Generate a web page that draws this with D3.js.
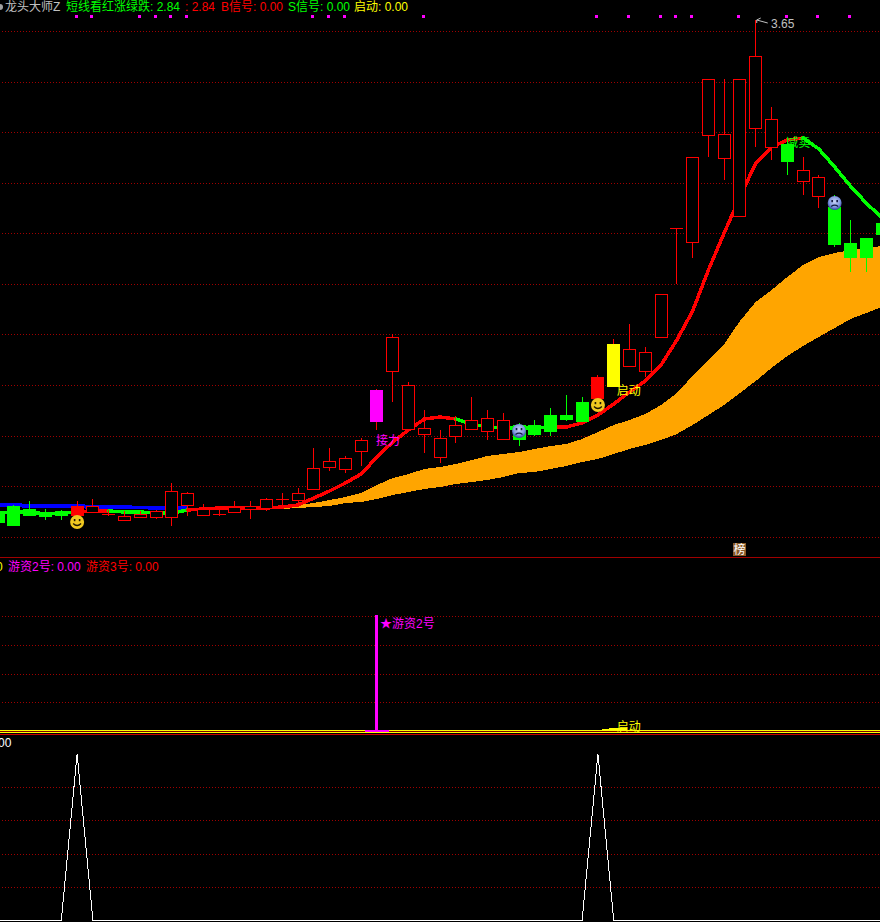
<!DOCTYPE html>
<html><head><meta charset="utf-8">
<script src="https://cdn.jsdelivr.net/npm/d3@7/dist/d3.min.js"></script>
<style>
html,body{margin:0;padding:0;background:#000;overflow:hidden}
svg{display:block}
text{font-family:"Liberation Sans","Noto Sans CJK SC",sans-serif;font-size:12px}
</style></head><body>
<svg id="c" width="880" height="922"></svg>
<script>
const opens=[1.682,1.706,1.694,1.678,1.686,1.670,1.682,1.674,1.650,1.662,1.662,1.662,1.710,1.670,1.674,1.682,1.694,1.698,1.734,1.730,1.774,1.862,1.854,1.926,2.046,2.246,2.014,1.994,1.902,1.986,2.014,2.006,1.974,2.030,2.030,2.070,2.070,2.122,2.138,2.186,2.266,2.246,2.382,2.818,2.762,3.190,3.098,2.866,3.218,3.142,3.154,3.006,2.946,2.902,2.758,2.778,2.838];
const closes=[1.642,1.630,1.670,1.666,1.670,1.706,1.706,1.674,1.666,1.674,1.686,1.766,1.758,1.694,1.674,1.702,1.706,1.734,1.734,1.758,1.858,1.886,1.898,1.970,2.170,2.382,2.190,2.018,1.978,2.030,2.050,2.058,2.050,1.974,1.994,2.006,2.054,2.046,2.222,2.354,2.334,2.322,2.554,2.818,3.102,3.414,3.194,3.414,3.506,3.254,3.086,3.050,3.022,2.754,2.702,2.702,2.794];
const highs=[1.690,1.710,1.726,1.694,1.690,1.726,1.734,1.690,1.686,1.686,1.690,1.798,1.762,1.714,1.706,1.726,1.726,1.738,1.758,1.778,1.938,1.938,1.906,1.978,2.174,2.394,2.202,2.090,2.010,2.066,2.142,2.090,2.078,2.038,2.050,2.098,2.150,2.142,2.230,2.374,2.434,2.342,2.554,2.818,3.102,3.414,3.414,3.414,3.650,3.302,3.178,3.102,3.030,2.950,2.850,2.778,2.870];
const lows=[1.634,1.626,1.666,1.650,1.650,1.666,1.678,1.666,1.646,1.658,1.654,1.626,1.666,1.666,1.666,1.678,1.654,1.686,1.694,1.718,1.770,1.846,1.838,1.866,2.010,2.122,2.010,1.918,1.878,1.958,2.010,1.970,1.970,1.946,1.986,1.986,2.046,2.042,2.134,2.182,2.262,2.222,2.382,2.594,2.698,3.102,3.010,2.866,3.142,3.090,3.030,2.950,2.898,2.742,2.642,2.642,2.770];
const shortLine=[1.678,1.682,1.682,1.674,1.678,1.682,1.686,1.686,1.682,1.682,1.678,1.678,1.690,1.694,1.698,1.698,1.698,1.698,1.702,1.710,1.738,1.766,1.798,1.834,1.902,1.962,2.010,2.054,2.062,2.054,2.034,2.022,2.018,2.018,2.018,2.022,2.022,2.038,2.070,2.114,2.162,2.206,2.270,2.370,2.486,2.650,2.798,2.942,3.078,3.142,3.170,3.178,3.134,3.062,2.986,2.918,2.858];
const trend=[-1,-1,-1,-1,-1,1,1,-1,-1,-1,-1,-1,1,1,1,1,1,1,1,1,1,1,1,1,1,1,1,1,1,-1,-1,-1,-1,-1,-1,1,1,1,1,1,1,1,1,1,1,1,1,1,1,1,1,-1,-1,-1,-1,-1];
const bandUpper=[1.718,1.718,1.714,1.714,1.714,1.714,1.710,1.710,1.710,1.706,1.706,1.706,1.706,1.698,1.698,1.698,1.698,1.698,1.698,1.710,1.718,1.730,1.742,1.758,1.790,1.818,1.834,1.854,1.862,1.874,1.890,1.906,1.914,1.922,1.934,1.946,1.954,1.974,2.002,2.030,2.050,2.074,2.110,2.158,2.226,2.290,2.354,2.446,2.522,2.570,2.622,2.670,2.702,2.718,2.730,2.738,2.746];
const bandLower=[1.702,1.702,1.698,1.698,1.698,1.698,1.694,1.694,1.694,1.694,1.690,1.690,1.690,1.698,1.698,1.698,1.698,1.698,1.694,1.698,1.702,1.706,1.718,1.722,1.734,1.750,1.762,1.774,1.782,1.794,1.802,1.810,1.822,1.838,1.842,1.854,1.866,1.882,1.894,1.914,1.934,1.950,1.970,1.994,2.030,2.070,2.110,2.158,2.206,2.258,2.306,2.346,2.382,2.418,2.454,2.478,2.502];
const blueBars=[0,1,2,3,4,5,6,7,8,9,10,11,12];
const orangeBars=[18,19,20,21,22,23,24,25,26,27,28,29,30,31,32,33,34,35,36,37,38,39,40,41,42,43,44,45,46,47,48,49,50,51,52,53,54,55,56];
const filledRedBars=[5,38];
const magentaBars=[24];
const yellowBars=[39];
const dotBars=[5,6,9,10,11,12,20,21,22,27,38,40,42,43,44,47,50,52,54];
const smileBars=[5,38], smileValues=[1.642,2.110];
const sadBars=[33,53], sadValues=[2.006,2.918];
const priceTicks=[3.606,3.402,3.202,2.998,2.798,2.594,2.394,2.190,1.986,1.786,1.582];
const panel2Ticks=[99,74,50,26,1];
const panel3Ticks=[80,60,40,20];
const youzi2Bars=[24], youzi2Values=[100];
const signalValues=[0,0,0,0,0,100,0,0,0,0,0,0,0,0,0,0,0,0,0,0,0,0,0,0,0,0,0,0,0,0,0,0,0,0,0,0,0,0,100,0,0,0,0,0,0,0,0,0,0,0,0,0,0,0,0,0,0];
const header1=[["龙头大师Z",5,"#c0c0c0"],["短线看红涨绿跌: 2.84",66,"#00ff00"],[": 2.84",185,"#ff0000"],["B信号: 0.00",221,"#ff0000"],["S信号: 0.00",288,"#00ff00"],["启动: 0.00",354,"#ffff00"]];
const header2=[["0",-4,"#ffff00"],["游资2号: 0.00",8,"#ff00ff"],["游资3号: 0.00",86,"#ff0000"]];

const RED="#ff0000",GREEN="#00ff00",GRID="#a00000";
const svg=d3.select("#c");
svg.append("rect").attr("width",880).attr("height",922).attr("fill","#000");
const defs=svg.append("defs");
const rg=defs.append("radialGradient").attr("id","sadFill").attr("cx","50%").attr("cy","40%").attr("r","60%");
rg.append("stop").attr("offset","0%").attr("stop-color","#c8d4f4");
rg.append("stop").attr("offset","65%").attr("stop-color","#7f96e0");
rg.append("stop").attr("offset","100%").attr("stop-color","#2c3f98");
const x=d3.scaleLinear().domain([0,56]).range([-1.8,882]);
const y=d3.scaleLinear().domain([3.73,1.502]).range([0,557]);
const y2=d3.scaleLinear().domain([0,100]).range([732,615]);
const y3=d3.scaleLinear().domain([0,100]).range([920,754]);
const crisp=g=>g.attr("shape-rendering","crispEdges");

function grid(vals,scale){
  crisp(svg.append("g")).selectAll("line").data(vals).join("line")
    .attr("x1",2).attr("x2",880)
    .attr("y1",d=>Math.round(scale(d))+.5).attr("y2",d=>Math.round(scale(d))+.5)
    .attr("stroke",GRID).attr("stroke-dasharray","1 2");
}
grid(priceTicks,y);grid(panel2Ticks,y2);grid(panel3Ticks,y3);

// band
const area=d3.area().x(i=>x(i)).y0(i=>y(bandLower[i])).y1(i=>y(bandUpper[i]));
crisp(svg.append("path")).attr("d",area(orangeBars)).attr("fill","#ffa500");
crisp(svg.append("path")).attr("d",area(blueBars)).attr("fill","#0000ff");

// short line
const lineGen=d3.line().x(i=>x(i)).y(i=>y(shortLine[i]));
const lineG=crisp(svg.append("g"));
trend.forEach((t,i)=>{
  lineG.append("path").attr("d",lineGen([i,i+1])).attr("fill","none")
    .attr("stroke",t>0?RED:GREEN).attr("stroke-width",3.5).attr("stroke-linecap","round");
});

// candles
const candleG=crisp(svg.append("g"));
opens.forEach((o,i)=>{
  const c=closes[i],up=c>=o;
  let col=up?RED:GREEN,fill=up?"#000":GREEN;
  if(filledRedBars.includes(i))fill=RED;
  if(magentaBars.includes(i)){col="#ff00ff";fill=col;}
  if(yellowBars.includes(i)){col="#ffff00";fill=col;}
  const cx=Math.floor(x(i));
  const top=Math.round(y(Math.max(o,c))),bot=Math.round(y(Math.min(o,c)));
  candleG.append("line").attr("x1",cx+.5).attr("x2",cx+.5)
    .attr("y1",Math.round(y(highs[i]))).attr("y2",Math.round(y(lows[i])))
    .attr("stroke",magentaBars.includes(i)||yellowBars.includes(i)?RED:col);
  if(top===bot){
    candleG.append("line").attr("x1",cx-6).attr("x2",cx+7).attr("y1",top+.5).attr("y2",top+.5).attr("stroke",col);
  }else if(fill==="#000"){
    candleG.append("rect").attr("x",cx-5.5).attr("y",top+.5).attr("width",12).attr("height",bot-top).attr("fill",fill).attr("stroke",col);
  }else{
    candleG.append("rect").attr("x",cx-6).attr("y",top).attr("width",13).attr("height",bot-top+1).attr("fill",fill);
  }
});

// top dots
crisp(svg.append("g")).selectAll("rect").data(dotBars).join("rect")
  .attr("x",i=>Math.floor(x(i))-2).attr("y",15).attr("width",3).attr("height",3).attr("fill","#ff00ff");

// faces
function face(cx,cy,sad){
  const g=svg.append("g").attr("transform",`translate(${cx},${cy})`);
  g.append("circle").attr("r",7).attr("fill",sad?"url(#sadFill)":"#f0c820");
  const ec=sad?"#101840":"#201800";
  [-2.5,2.5].forEach(dx=>g.append("rect").attr("x",dx-.8).attr("y",-3).attr("width",1.6).attr("height",2.2).attr("fill",ec));
  g.append("path").attr("d",sad?"M-3.5,3.5Q0,0.8,3.5,3.5":"M-4,1.5Q0,5.5,4,1.5").attr("fill","none").attr("stroke",ec).attr("stroke-width",1.2);
}
smileBars.forEach((b,k)=>face(x(b),y(smileValues[k]),false));
sadBars.forEach((b,k)=>face(x(b),y(sadValues[k]),true));

// labels on price panel
const lab=(t,px,py,c)=>svg.append("text").attr("x",px).attr("y",py).attr("fill",c).text(t);
lab("接力",x(24)-1,445,"#ff00ff");
lab("启动",x(39)+3,395,"#ffff00");
lab("减卖",x(50)-1,147,"#00ff00");
lab("3.65",771,28,"#c0c0c0");
svg.append("path").attr("d",`M${x(48)+1},${y(3.65)}L${x(48)+12},${y(3.65)+3}M${x(48)+1},${y(3.65)}l4,-2M${x(48)+1},${y(3.65)}l0,3`)
  .attr("fill","none").attr("stroke","#c0c0c0");

// headers
header1.forEach(([t,px,c])=>lab(t,px,11,c));
svg.append("circle").attr("cx",0).attr("cy",7).attr("r",3).attr("fill","#a0a0a0");
header2.forEach(([t,px,c])=>lab(t,px,571,c));
lab("0.00",-12,747,"#ffffff");

// tag
crisp(svg.append("rect")).attr("x",733).attr("y",543).attr("width",13).attr("height",13).attr("fill","#8a5a28");
svg.append("text").attr("x",733.5).attr("y",554).attr("fill","#fff").text("榜");

// separators
const hl=(x1,x2,py,c)=>crisp(svg.append("line")).attr("x1",x1).attr("x2",x2).attr("y1",py+.5).attr("y2",py+.5).attr("stroke",c);
hl(0,880,557,GRID);

// panel 2
hl(0,880,730,"#ffff00");hl(0,880,731,"#800000");hl(0,880,732,"#ffff00");hl(0,880,734,"#d00000");
youzi2Bars.forEach((b,k)=>{
  crisp(svg.append("rect")).attr("x",Math.floor(x(b))-1).attr("y",y2(youzi2Values[k])).attr("width",3).attr("height",y2(0)-y2(youzi2Values[k])).attr("fill","#ff00ff");
  crisp(svg.append("rect")).attr("x",x(b)-12).attr("y",y2(0)-2).attr("width",24).attr("height",2).attr("fill","#ff00ff");
});
crisp(svg.append("rect")).attr("x",x(38)+4).attr("y",729).attr("width",25).attr("height",2).attr("fill","#ffff00");
crisp(svg.append("rect")).attr("x",x(38)+11).attr("y",728).attr("width",18).attr("height",2).attr("fill","#ffff00");
lab("★游资2号",380,628,"#ff00ff");
lab("启动",x(39)+3,731,"#ffff00");

// panel 3
svg.append("path").attr("d",d3.line().x((d,i)=>x(i)).y(d=>y3(d)).curve(d3.curveLinear)(signalValues))
  .attr("fill","none").attr("stroke","#ffffff").attr("shape-rendering","crispEdges");
</script>
</body></html>
